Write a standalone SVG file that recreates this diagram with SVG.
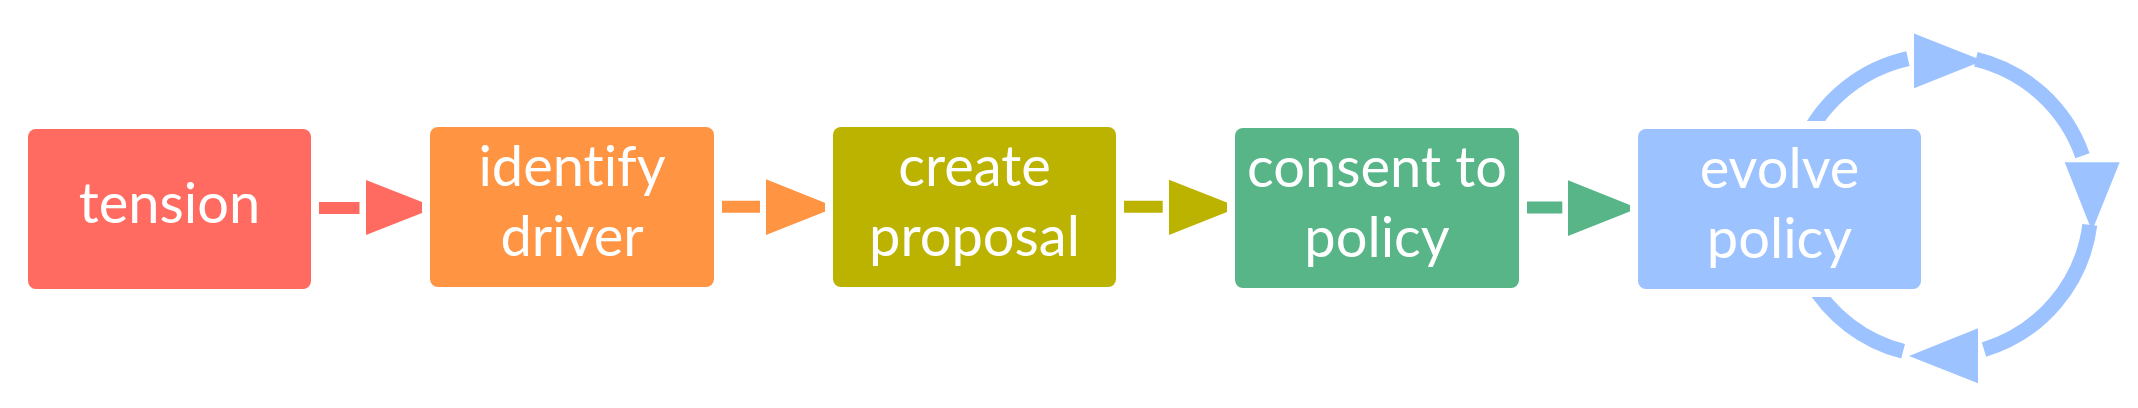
<svg xmlns="http://www.w3.org/2000/svg" width="2138" height="408" viewBox="0 0 2138 408">
<style>
.halo{fill:#ffffff}
.lbl{font-family:Lato,"Liberation Sans",sans-serif;font-size:56px;font-weight:400;fill:#ffffff;text-anchor:middle;font-variant-ligatures:none}
.bar{stroke-width:12;fill:none}
.arc{stroke:#9CC2FF;stroke-width:15;fill:none;stroke-linecap:butt}
.tri{stroke:#ffffff;stroke-width:6;stroke-linejoin:round;paint-order:stroke}
</style>
<rect width="2138" height="408" fill="#ffffff"/>
<g id="connectors">
  <line class="bar" x1="305" y1="208" x2="359.5" y2="208" stroke="#FF6B61"/>
  <polygon class="tri" points="366,180 436,207.5 366,235" fill="#FF6B61"/>
  <line class="bar" x1="708" y1="206.7" x2="760" y2="206.7" stroke="#FF9443"/>
  <polygon class="tri" points="766,179.3 836,207.2 766,235" fill="#FF9443"/>
  <line class="bar" x1="1110" y1="206.7" x2="1162.7" y2="206.7" stroke="#BCB300"/>
  <polygon class="tri" points="1169,179.7 1239,207.3 1169,235" fill="#BCB300"/>
  <line class="bar" x1="1513" y1="207.5" x2="1562.3" y2="207.5" stroke="#57B587"/>
  <polygon class="tri" points="1568,180.3 1638,208.2 1568,236" fill="#57B587"/>
  <path class="arc" d="M1804.1,141.9 A150.5,150.5 0 0 1 1907.9,58.6"/>
  <polygon class="tri" points="1914,33.5 1983,60.8 1914,88.3" fill="#9CC2FF"/>
  <path class="arc" d="M1975.9,59.2 A150.5,150.5 0 0 1 2082.5,155.7"/>
  <polygon class="tri" points="2064.7,162.3 2119.7,162.3 2092,231" fill="#9CC2FF"/>
  <path class="arc" d="M2089.8,224.9 A150.5,150.5 0 0 1 1984,349.6"/>
  <polygon class="tri" points="1978,328.3 1978,383.3 1909,356" fill="#9CC2FF"/>
  <path class="arc" d="M1903.1,351.3 A150.5,150.5 0 0 1 1810.2,280.8"/>
</g>
<g id="tension">
  <rect class="halo" x="20" y="121" width="299" height="176" rx="12"/>
  <rect x="28" y="129" width="283" height="160" rx="8" fill="#FF6B61"/>
  <text class="lbl" x="169.5" y="222.5">tension</text>
</g>
<g id="identify-driver">
  <rect class="halo" x="422" y="119" width="300" height="176" rx="12"/>
  <rect x="430" y="127" width="284" height="160" rx="8" fill="#FF9443"/>
  <text class="lbl" x="572" y="186">identify</text>
  <text class="lbl" x="572" y="256">driver</text>
</g>
<g id="create-proposal">
  <rect class="halo" x="825" y="119" width="299" height="176" rx="12"/>
  <rect x="833" y="127" width="283" height="160" rx="8" fill="#BCB300"/>
  <text class="lbl" x="974.5" y="186">create</text>
  <text class="lbl" x="974.5" y="256">proposal</text>
</g>
<g id="consent-to-policy">
  <rect class="halo" x="1227" y="120" width="300" height="176" rx="12"/>
  <rect x="1235" y="128" width="284" height="160" rx="8" fill="#57B587"/>
  <text class="lbl" x="1377" y="187">consent to</text>
  <text class="lbl" x="1377" y="257">policy</text>
</g>
<g id="evolve-policy">
  <rect class="halo" x="1630" y="121" width="299" height="176" rx="12"/>
  <rect x="1638" y="129" width="283" height="160" rx="8" fill="#9CC2FF"/>
  <text class="lbl" x="1779.5" y="188">evolve</text>
  <text class="lbl" x="1779.5" y="258">policy</text>
</g>
</svg>
